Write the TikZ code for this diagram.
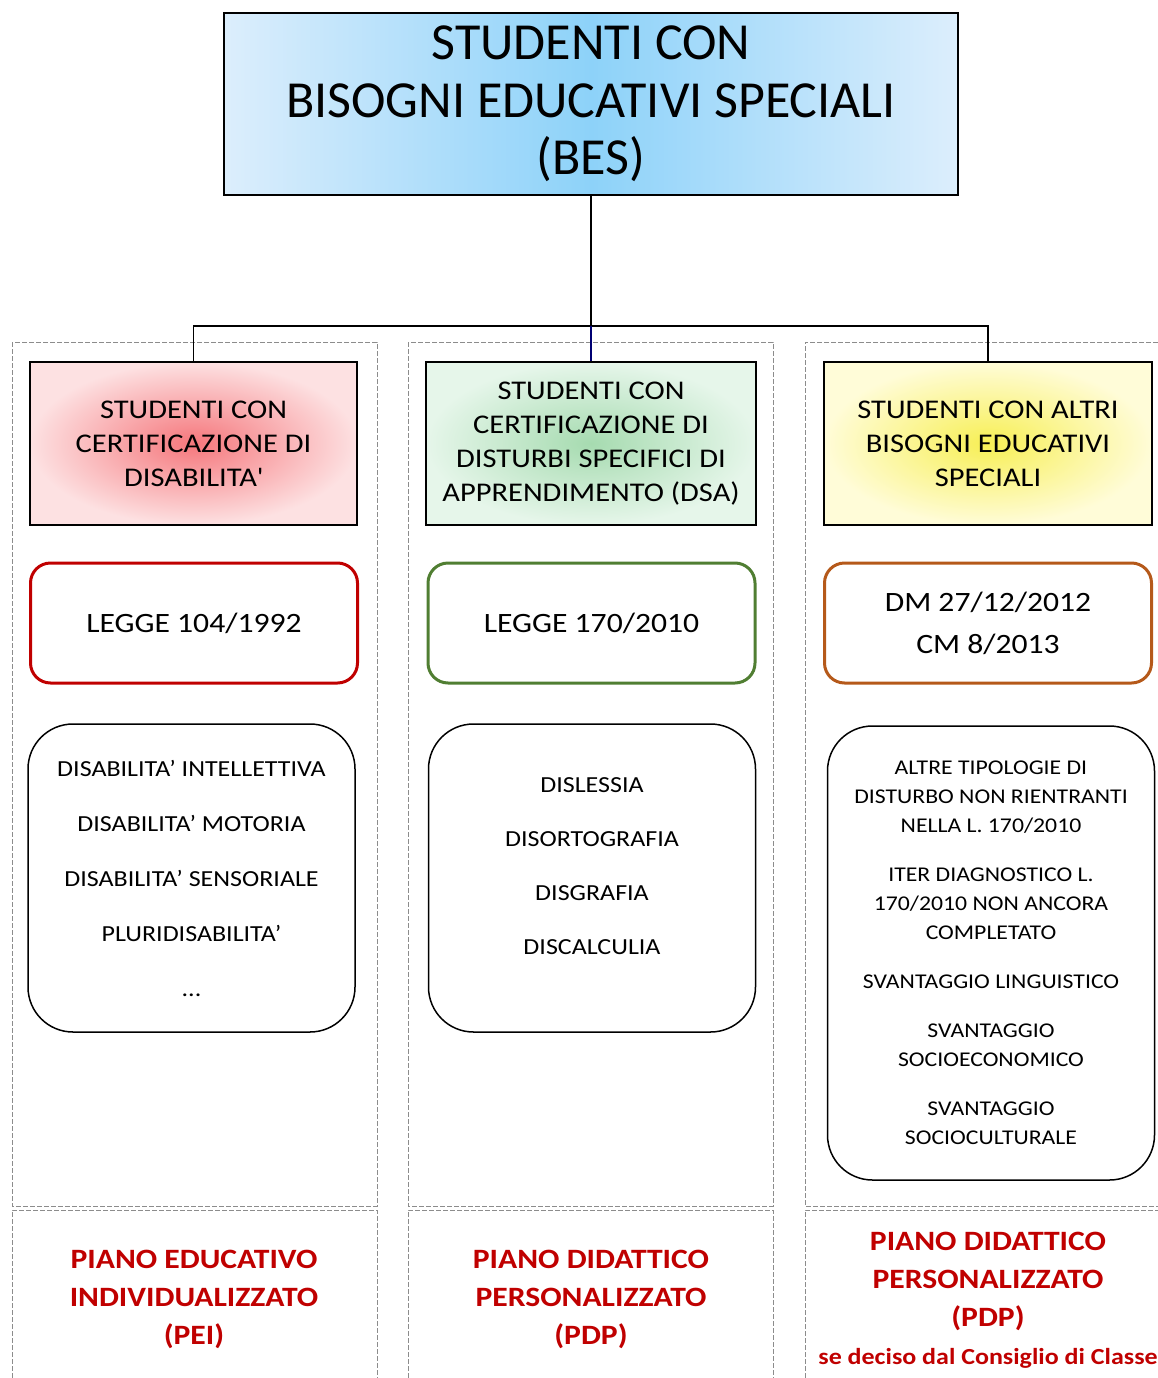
\documentclass[tikz,border=0pt]{standalone}
\usepackage{fontspec}
\setmainfont{Carlito}
\newfontfamily\widefont{Carlito}[FakeStretch=1.13]
\definecolor{besmid}{HTML}{8DD2F9}
\definecolor{besedge}{HTML}{DCEEFC}
\definecolor{dismid}{HTML}{F5777C}
\definecolor{disedge}{HTML}{FDE1E2}
\definecolor{dsamid}{HTML}{A6DBB0}
\definecolor{dsaedge}{HTML}{E6F6EA}
\definecolor{altmid}{HTML}{F7EF55}
\definecolor{altedge}{HTML}{FFFCD8}
\definecolor{lawred}{HTML}{C00000}
\definecolor{lawgreen}{HTML}{507E32}
\definecolor{lawbrown}{HTML}{B5591A}
\definecolor{planred}{HTML}{C00000}
\tikzset{
  titlebox/.style={draw, line width=1.5pt, inner sep=0pt,
    minimum width=734pt, minimum height=182pt, align=center,
    left color=besedge, right color=besedge, middle color=besmid,
    font=\fontsize{52}{57.5}\selectfont},
  groupbox/.style={draw, line width=1.5pt, inner sep=0pt,
    minimum height=163pt, align=center,
    font=\widefont\fontsize{27}{34}\selectfont},
  lawbox/.style={draw=#1, line width=3pt, rounded corners=20pt, inner sep=0pt,
    minimum width=327pt, minimum height=120pt, align=center,
    font=\widefont\fontsize{28}{42}\selectfont},
  listbox/.style={draw, line width=1.5pt, rounded corners=45pt, inner sep=0pt,
    minimum width=327pt, align=center},
  plan/.style={text=planred, align=center,
    font=\widefont\bfseries\fontsize{28}{38}\selectfont},
  frame/.style={draw=gray!90, line width=1pt, dash pattern=on 5pt off 2pt},
  link/.style={line width=1.5pt}
}

\begin{document}
\begin{tikzpicture}[x=1pt, y=-1pt]
	\useasboundingbox (0,0) rectangle (1158,1378);
	% column frames
	\draw[frame] (12,342) rectangle (377,1206);
	\draw[frame] (408,342) rectangle (773,1206);
	\draw[frame] (1158,342) -- (805,342) -- (805,1206) -- (1158,1206);
	\draw[frame] (12,1378) -- (12,1210) -- (377,1210) -- (377,1378);
	\draw[frame] (408,1378) -- (408,1210) -- (773,1210) -- (773,1378);
	\draw[frame] (805,1378) -- (805,1210) -- (1158,1210);

	\node[titlebox] (bes) at (591,104) {STUDENTI CON\\BISOGNI EDUCATIVI SPECIALI\\(BES)};

	\node[groupbox, minimum width=327pt, inner color=dismid, outer color=disedge] (dis) at (193.5,443.5)
	    {STUDENTI CON\\CERTIFICAZIONE DI\\DISABILITA\textquotesingle};
	\node[groupbox, minimum width=330pt, inner color=dsamid, outer color=dsaedge] (dsa) at (591,443.5)
	    {STUDENTI CON\\CERTIFICAZIONE DI\\DISTURBI SPECIFICI DI\\APPRENDIMENTO (DSA)};
	\node[groupbox, minimum width=328pt, inner color=altmid, outer color=altedge] (alt) at (988,443.5)
	    {STUDENTI CON ALTRI\\BISOGNI EDUCATIVI\\SPECIALI};

	\coordinate (fork) at (591,326);
	\draw[link] (bes.south) -- (fork);
	\draw[link] (fork) -| (dis.north);
	\draw[link] (fork) -| (alt.north);
	\draw[link, draw=blue!45!black] (fork) -- (dsa.north);

	\node[lawbox=lawred] (law1) at (194,623) {LEGGE 104/1992};
	\node[lawbox=lawgreen] (law2) at (591.5,623) {LEGGE 170/2010};
	\node[lawbox=lawbrown] (law3) at (988,623) {DM 27/12/2012\\CM 8/2013};

	\node[listbox, minimum height=308pt, font=\widefont\fontsize{23}{55}\selectfont] (list1) at (191.5,878)
	    {DISABILITA’ INTELLETTIVA\\DISABILITA’ MOTORIA\\DISABILITA’ SENSORIALE\\PLURIDISABILITA’\\...};
	\node[listbox, minimum height=308pt, font=\widefont\fontsize{23}{54}\selectfont] (list2) at (592,878)
	    {DISLESSIA\\DISORTOGRAFIA\\DISGRAFIA\\DISCALCULIA\\[-30pt]};
	\node[listbox, minimum height=454pt, font=\widefont\fontsize{21}{29}\selectfont] (list3) at (991,953)
	    {ALTRE TIPOLOGIE DI\\DISTURBO NON RIENTRANTI\\NELLA L. 170/2010\\[20pt]
	     ITER DIAGNOSTICO L.\\170/2010 NON ANCORA\\COMPLETATO\\[20pt]
	     SVANTAGGIO LINGUISTICO\\[20pt]
	     SVANTAGGIO\\SOCIOECONOMICO\\[20pt]
	     SVANTAGGIO\\SOCIOCULTURALE};

	\node[plan] (pei) at (194,1299) {PIANO EDUCATIVO\\INDIVIDUALIZZATO\\(PEI)};
	\node[plan] (pdp1) at (591,1299) {PIANO DIDATTICO\\PERSONALIZZATO\\(PDP)};
	\node[plan] (pdp2) at (988,1300) {PIANO DIDATTICO\\PERSONALIZZATO\\(PDP)\\
	    {\fontsize{23}{30}\selectfont se deciso dal Consiglio di Classe}};
\end{tikzpicture}
\end{document}
